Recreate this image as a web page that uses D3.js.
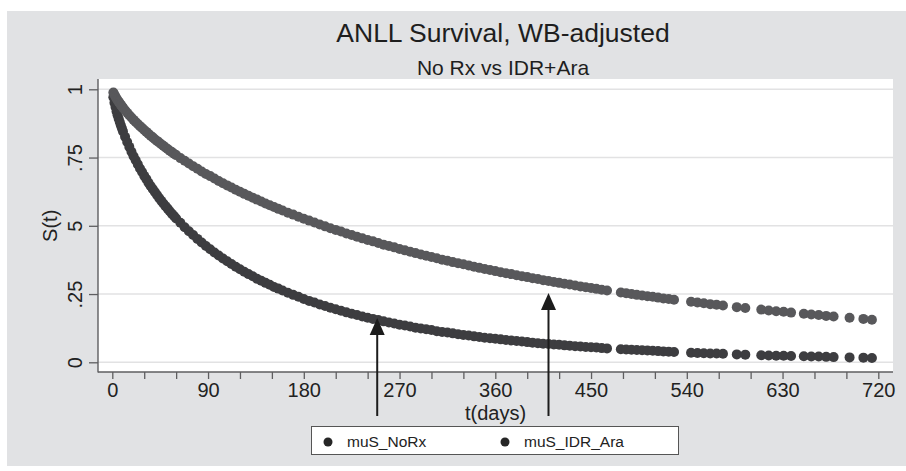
<!DOCTYPE html>
<html>
<head>
<meta charset="utf-8">
<script src="https://cdn.jsdelivr.net/npm/d3@7"></script>
<style>
  html, body { margin: 0; padding: 0; background: #ffffff; }
  svg { display: block; font-family: "Liberation Sans", Arial, Helvetica, sans-serif; }
</style>
</head>
<body>
<svg id="chart" width="906" height="471"></svg>
<script>
// Weibull-adjusted survival estimates, S(t), at each observed day
const days = [
  1, 2, 3, 4, 5, 6, 7, 8, 9, 10,
  12, 14, 16, 18, 20, 22, 24, 26, 28, 30, 32, 34, 36, 38, 40, 42, 44, 46, 48, 50, 52, 54, 56, 58, 60,
  64, 68, 72, 76, 80, 84, 88, 92, 96, 100, 104, 108, 112, 116, 120, 124, 128, 132, 136, 140, 144, 148, 152, 156, 160,
  165, 170, 175, 180, 185, 190, 195, 200, 205, 210, 215, 220, 225, 230, 235, 240, 245, 250, 255, 260,
  265, 270, 275, 280, 285, 290, 295, 300, 305, 310, 315, 320, 325, 330, 335, 340, 345, 350, 355, 360,
  365, 370, 375, 380, 385, 390, 395, 400, 405, 410, 415, 420, 425, 430, 435, 440, 445, 450, 455, 460, 465,
  478, 483, 488, 493, 498, 503, 508, 513, 518, 523, 528,
  544, 550, 556, 562, 568, 574,
  587, 595,
  610, 617, 624, 631, 638,
  650, 657, 664, 671, 678,
  693, 706, 714
];

const muS_NoRx = [
  .971, .951, .935, .919, .905, .892, .880, .868, .857, .846,
  .826, .807, .789, .771, .755, .740, .725, .710, .697, .683, .671, .658, .646, .635, .624, .613, .602, .592, .582, .572, .563, .553, .544, .536, .527,
  .511, .495, .480, .466, .452, .439, .426, .414, .402, .391, .380, .370, .360, .350, .341, .332, .323, .315, .306, .299, .291, .284, .276, .270, .263,
  .255, .247, .240, .232, .225, .219, .212, .206, .200, .194, .189, .183, .178, .173, .168, .163, .159, .155, .150, .146,
  .142, .138, .135, .131, .127, .124, .121, .118, .114, .111, .109, .106, .103, .100, .098, .095, .093, .090, .088, .086,
  .084, .082, .080, .078, .076, .074, .072, .070, .068, .067, .065, .064, .062, .061, .059, .058, .056, .055, .054, .052, .051,
  .048, .047, .046, .045, .044, .043, .042, .041, .040, .039, .038,
  .035, .034, .033, .032, .032, .031,
  .029, .028,
  .026, .025, .024, .024, .023,
  .022, .021, .021, .020, .019,
  .018, .017, .016
];

const muS_IDR_Ara = [
  .988, .980, .973, .966, .960, .954, .949, .943, .938, .933,
  .923, .914, .905, .897, .888, .880, .873, .865, .858, .851, .844, .837, .830, .824, .817, .811, .805, .799, .793, .787, .781, .775, .770, .764, .759,
  .748, .738, .728, .718, .709, .699, .690, .682, .673, .664, .656, .648, .640, .632, .625, .617, .610, .603, .596, .589, .582, .575, .569, .562, .556,
  .548, .541, .533, .526, .519, .512, .505, .498, .491, .485, .479, .472, .466, .460, .454, .448, .443, .437, .431, .426,
  .421, .415, .410, .405, .400, .395, .390, .386, .381, .376, .372, .367, .363, .359, .355, .350, .346, .342, .338, .334,
  .330, .326, .323, .319, .315, .312, .308, .305, .301, .298, .294, .291, .288, .285, .281, .278, .275, .272, .269, .266, .263,
  .256, .253, .250, .247, .245, .242, .240, .237, .234, .232, .229,
  .222, .219, .216, .213, .211, .208,
  .202, .199,
  .193, .190, .187, .185, .182,
  .178, .175, .173, .170, .168,
  .163, .159, .156
];

const seriesNames = ["muS_NoRx", "muS_IDR_Ara"];
const seriesColors = ["#3d3d40", "#58585b"];

const xMajorTicks = [0, 90, 180, 270, 360, 450, 540, 630, 720];
const xMinorTicks = [30, 60, 120, 150, 210, 240, 300, 330, 390, 420, 480, 510, 570, 600, 660, 690];
const yTicks = [0, 0.25, 0.5, 0.75, 1];
const yTickLabels = ["0", ".25", "5", ".75", "1"];

// annotation arrows: day and survival level at the arrow tip
const arrowDays = [249, 410];
const arrowTips = [0.162, 0.254];

const titleText = "ANLL Survival, WB-adjusted";
const subtitleText = "No Rx vs IDR+Ara";
const xTitle = "t(days)";
const yTitle = "S(t)";

// ---- layout ----
const W = 906, H = 471;
const plot = { left: 98, right: 893, top: 79, bottom: 372 };

const svg = d3.select("#chart");

// outer panel
svg.append("rect").attr("x", 7).attr("y", 11).attr("width", W - 7).attr("height", 455)
  .attr("fill", "#e1e2e4");

// plot region
svg.append("rect").attr("x", plot.left).attr("y", plot.top)
  .attr("width", plot.right - plot.left).attr("height", plot.bottom - plot.top)
  .attr("fill", "#ffffff");

const x = d3.scaleLinear().domain([0, 720]).range([112.3, 878.3]);
const y = d3.scaleLinear().domain([0, 1]).range([362.3, 89.3]);

// horizontal grid
svg.append("g").selectAll("line").data(yTicks).join("line")
  .attr("x1", plot.left).attr("x2", plot.right)
  .attr("y1", d => y(d)).attr("y2", d => y(d))
  .attr("stroke", "#e2e2e3").attr("stroke-width", 1.6);

// series dots
const series = [muS_NoRx, muS_IDR_Ara];
series.forEach((vals, si) => {
  svg.append("g").selectAll("circle").data(days).join("circle")
    .attr("cx", d => x(d))
    .attr("cy", (d, i) => y(vals[i]))
    .attr("r", 5)
    .attr("fill", seriesColors[si]);
});

// axis lines
svg.append("line").attr("x1", plot.left).attr("x2", plot.left)
  .attr("y1", plot.top).attr("y2", plot.bottom + 0.5)
  .attr("stroke", "#5e5e60").attr("stroke-width", 1.4);
svg.append("line").attr("x1", plot.left).attr("x2", plot.right)
  .attr("y1", plot.bottom).attr("y2", plot.bottom)
  .attr("stroke", "#5e5e60").attr("stroke-width", 1.4);

// y axis
const yAxis = svg.append("g").attr("transform", `translate(${plot.left},0)`)
  .call(d3.axisLeft(y).tickValues(yTicks).tickSize(9).tickSizeOuter(0)
    .tickFormat((d, i) => yTickLabels[i]));
yAxis.select(".domain").remove();
yAxis.selectAll(".tick line").attr("stroke", "#5e5e60").attr("stroke-width", 1.3);
yAxis.selectAll(".tick text")
  .attr("x", 0).attr("y", -16).attr("dy", null)
  .attr("transform", "rotate(-90)")
  .attr("text-anchor", "middle")
  .attr("font-size", 20).attr("fill", "#222")
  .attr("font-family", "Liberation Sans, Arial, sans-serif");

// x axis: major ticks with labels, minor ticks without
const xAxis = svg.append("g").attr("transform", `translate(0,${plot.bottom})`)
  .call(d3.axisBottom(x).tickValues(xMajorTicks).tickSize(7).tickSizeOuter(0)
    .tickFormat(d3.format("d")));
xAxis.select(".domain").remove();
xAxis.selectAll(".tick line").attr("stroke", "#5e5e60").attr("stroke-width", 1.3);
xAxis.selectAll(".tick text")
  .attr("y", 25).attr("dy", null)
  .attr("font-size", 20).attr("fill", "#222")
  .attr("font-family", "Liberation Sans, Arial, sans-serif");

const xMinor = svg.append("g").attr("transform", `translate(0,${plot.bottom})`)
  .call(d3.axisBottom(x).tickValues(xMinorTicks).tickSize(7).tickSizeOuter(0).tickFormat(""));
xMinor.select(".domain").remove();
xMinor.selectAll(".tick line").attr("stroke", "#5e5e60").attr("stroke-width", 1.3);

// axis titles
svg.append("text").attr("x", (plot.left + plot.right) / 2).attr("y", 419.5)
  .attr("text-anchor", "middle").attr("font-size", 20).attr("fill", "#222")
  .text(xTitle);
svg.append("text")
  .attr("transform", `translate(57,${(y(0) + y(1)) / 2}) rotate(-90)`)
  .attr("text-anchor", "middle").attr("font-size", 20).attr("fill", "#222")
  .text(yTitle);

// titles
svg.append("text").attr("x", 503).attr("y", 42)
  .attr("text-anchor", "middle").attr("font-size", 26.5).attr("fill", "#1e1e1e")
  .text(titleText);
svg.append("text").attr("x", 503).attr("y", 75)
  .attr("text-anchor", "middle").attr("font-size", 21).attr("fill", "#1e1e1e")
  .text(subtitleText);

// arrows pointing at the curves
const arrowBottom = 416;
const arrows = svg.append("g");
arrowDays.forEach((d, i) => {
  const ax = x(d), tip = y(arrowTips[i]);
  arrows.append("line").attr("x1", ax).attr("x2", ax)
    .attr("y1", arrowBottom).attr("y2", tip + 10)
    .attr("stroke", "#1c1c1c").attr("stroke-width", 2);
  arrows.append("path")
    .attr("d", `M${ax},${tip} L${ax - 7.5},${tip + 17} L${ax + 7.5},${tip + 17} Z`)
    .attr("fill", "#1c1c1c");
});

// legend
const legend = svg.append("g");
legend.append("rect").attr("x", 311.5).attr("y", 426.5).attr("width", 367).attr("height", 28)
  .attr("fill", "#ffffff").attr("stroke", "#555").attr("stroke-width", 1);
const legendX = [328, 505];
seriesNames.forEach((name, i) => {
  legend.append("circle").attr("cx", legendX[i]).attr("cy", 442).attr("r", 4.5)
    .attr("fill", "#262626");
  legend.append("text").attr("x", legendX[i] + 19).attr("y", 447)
    .attr("font-size", 15.5).attr("fill", "#222").text(name);
});
</script>
</body>
</html>
